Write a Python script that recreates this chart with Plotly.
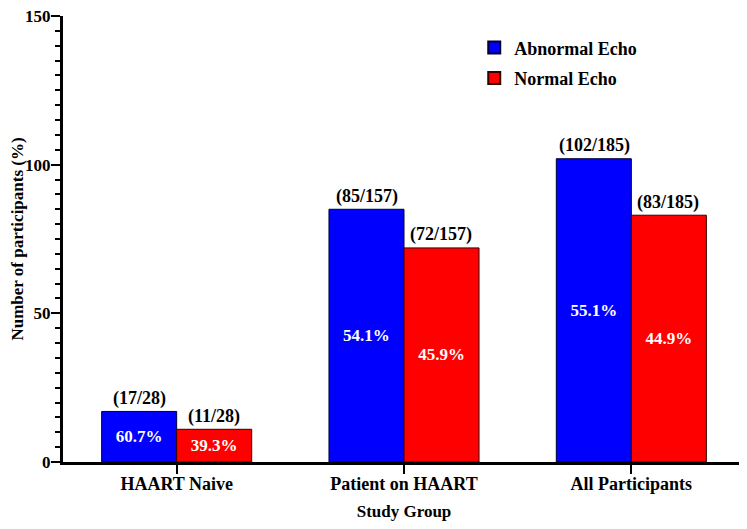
import plotly.graph_objects as go

categories = ["HAART Naive", "Patient on HAART", "All Participants"]
abnormal = [17, 85, 102]
normal = [11, 72, 83]
abnormal_pct = ["60.7%", "54.1%", "55.1%"]
normal_pct = ["39.3%", "45.9%", "44.9%"]
abnormal_frac = ["(17/28)", "(85/157)", "(102/185)"]
normal_frac = ["(11/28)", "(72/157)", "(83/185)"]
y_ticks = [0, 50, 100, 150]

font_family = "Liberation Serif, DejaVu Serif Condensed, DejaVu Serif"

def fnt(size, color="black"):
    return dict(size=size, family=font_family, color=color, weight="bold")

fig = go.Figure()
fig.add_trace(go.Bar(
    name="Abnormal Echo", x=categories, y=abnormal, text=abnormal_pct,
    textposition="inside", insidetextanchor="middle",
    textfont=fnt(17, "white"),
    marker=dict(color="#0000FF", line=dict(color="#000033", width=1)),
    offsetgroup=0, legendgroup="a",
))
fig.add_trace(go.Bar(
    name="Normal Echo", x=categories, y=normal, text=normal_pct,
    textposition="inside", insidetextanchor="middle",
    textfont=fnt(17, "white"),
    marker=dict(color="#FF0000", line=dict(color="#330000", width=1)),
    offsetgroup=1, legendgroup="b",
))

annotations = []
for i, c in enumerate(categories):
    annotations.append(dict(x=c, y=abnormal[i], text=abnormal_frac[i], xref="x", yref="y",
                            xshift=-37, yshift=13, showarrow=False, font=fnt(18)))
    annotations.append(dict(x=c, y=normal[i], text=normal_frac[i], xref="x", yref="y",
                            xshift=37, yshift=13, showarrow=False, font=fnt(18)))

fig.update_layout(
    width=739, height=513,
    margin=dict(l=55, r=2, t=8, b=59),
    paper_bgcolor="white", plot_bgcolor="white",
    barmode="group", bargap=0.34, bargroupgap=0,
    font=fnt(17),
    uniformtext=dict(minsize=10),
    annotations=annotations,
    legend=dict(x=0.603, y=0.97, xanchor="left", yanchor="top",
                font=fnt(18),
                bgcolor="rgba(0,0,0,0)", itemsizing="constant", tracegroupgap=4),
    xaxis=dict(
        showline=True, linecolor="black", linewidth=3, automargin=False,
        ticks="outside", ticklen=9, tickwidth=2, tickcolor="black",
        tickfont=fnt(18), ticklabelstandoff=-6,
        title=dict(text="Study Group", font=fnt(17), standoff=30),
        range=[-0.5, 2.5],
    ),
    yaxis=dict(
        range=[0, 150], tickvals=y_ticks, ticklabeloverflow="allow",
        showline=True, linecolor="black", linewidth=3, automargin=False,
        ticks="outside", ticklen=9, tickwidth=2, tickcolor="black",
        showgrid=False, zeroline=False,
        tickfont=fnt(17), ticklabelstandoff=-3,
        minor=dict(dtick=5, ticks="outside", ticklen=5, tickwidth=2, tickcolor="black", showgrid=False),
        title=dict(text="Number of participants (%)", font=fnt(17), standoff=9),
    ),
)

fig.write_html("out.html")
